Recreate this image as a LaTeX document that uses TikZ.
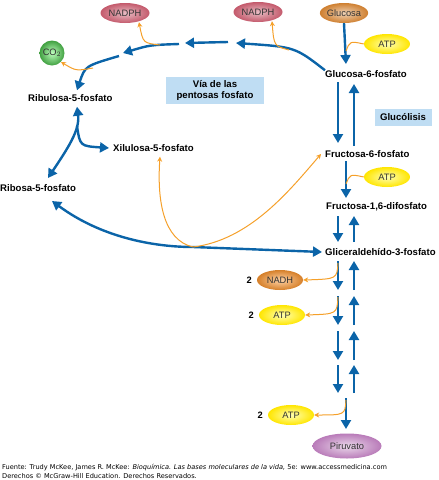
\documentclass[tikz,border=0pt]{standalone}
\usepackage{fontspec}
\setmainfont{Liberation Sans}
\newfontfamily\footfont{DejaVu Sans}
\usetikzlibrary{shapes.geometric, positioning, arrows.meta}
\definecolor{pathblue}{HTML}{0B64A8}
\definecolor{sideorange}{HTML}{F5A02A}
\definecolor{boxblue}{HTML}{BFDDF3}
\definecolor{rose}{HTML}{C45A6C}
\definecolor{lilac}{HTML}{B97BB9}
\tikzset{
  flow/.style={-{Triangle[length=9pt,width=10pt]}, line width=2.4pt, draw=pathblue},
  flowboth/.style={{Triangle[length=9pt,width=10pt]}-{Triangle[length=9pt,width=10pt]}, line width=2.4pt, draw=pathblue},
  feed/.style={line width=1pt, draw=sideorange},
  feedout/.style={feed, -{Stealth[length=5pt,width=5pt]}},
  metab/.style={font=\fontsize{9.6}{11}\selectfont\bfseries, inner sep=0pt, anchor=west},
  cofactor/.style={ellipse, minimum width=46pt, minimum height=20pt, inner sep=0pt, font=\fontsize{9.3}{11}\selectfont, text=black!80, shading=radial},
  atp/.style={cofactor, inner color=yellow!30, outer color=yellow!80!orange},
  nadph/.style={cofactor, minimum width=49pt, inner color=rose!40!white, outer color=rose},
  count/.style={font=\fontsize{9.3}{11}\selectfont\bfseries},
  titlebox/.style={fill=boxblue, font=\fontsize{9.6}{11}\selectfont\bfseries, align=center, inner sep=2pt}
}

\begin{document}
\begin{tikzpicture}[x=1pt, y=-1pt]
\useasboundingbox (0,0) rectangle (439,480);
% columns of the glycolysis arrows
\coordinate (dn) at (338,0);
\coordinate (up) at (354,0);
\coordinate (mid) at (346,0);

\node[cofactor, inner color=orange!25!brown!35!white, outer color=brown!75!orange] (glucosa) at (344,13) {Glucosa};
\node[nadph] (nadphA) at (258,12) {NADPH};
\node[nadph] (nadphB) at (125,13) {NADPH};
\node[cofactor, circle, minimum width=25pt, inner color=green!25!white, outer color=green!50!black!75!white] (co2) at (52,53) {CO$_2$};
\node[atp] (atpA) at (387,44) {ATP};
\node[atp] (atpB) at (387,177) {ATP};

\node[metab] (g6p) at (325,74) {Glucosa-6-fosfato};
\node[metab] (f6p) at (325,154) {Fructosa-6-fosfato};
\node[metab] (f16) at (326,207) {Fructosa-1,6-difosfato};
\node[metab] (g3p) at (325,252) {Gliceraldehído-3-fosfato};
\node[metab] (ribulosa) at (28,98) {Ribulosa-5-fosfato};
\node[metab] (xilulosa) at (113,148) {Xilulosa-5-fosfato};
\node[metab] (ribosa) at (0,188) {Ribosa-5-fosfato};

\node[titlebox, minimum width=98pt, minimum height=27pt] (via) at (215,90) {Vía de las\\pentosas fosfato};
\node[titlebox, minimum width=57pt, minimum height=17pt] (glucolisis) at (403,117) {Glucólisis};

\node[cofactor, inner color=orange!35!white, outer color=brown!65!orange] (nadh) at (280,280) {NADH};
\node[count, left=1.5pt of nadh] (nadhN) {2};
\node[atp] (atpC) at (282,315) {ATP};
\node[count, left=1.5pt of atpC] (atpCN) {2};
\node[atp] (atpD) at (291,415) {ATP};
\node[count, left=1.5pt of atpD] (atpDN) {2};
\node[cofactor, minimum width=69pt, minimum height=25pt, inner color=lilac!30!white, outer color=lilac] (piruvato) at (347,446) {Piruvato};

% glucolisis
\draw[flow] (glucosa.south) -- (mid |- 0,64);
\draw[feed] (atpA.west) .. controls (350,41) .. (mid |- 0,51);
\draw[flow] (dn |- 0,82) -- (dn |- 0,143);
\draw[flow] (up |- 0,146) -- (up |- 0,84);
\draw[flow] (mid |- 0,161) -- (mid |- 0,198);
\draw[feed] (atpB.west) .. controls (350,174) .. (mid |- 0,184);
\draw[flow] (dn |- 0,216) -- (dn |- 0,242);
\draw[flow] (up |- 0,242) -- (up |- 0,216);
\foreach \a/\b in {261/290, 296/325, 331/360, 365/393} {
  \draw[flow] (dn |- 0,\a) -- (dn |- 0,\b);
  \draw[flow] (up |- 0,\b) -- (up |- 0,\a);
}
\draw[flow] (mid |- 0,398) -- (mid |- 0,429);
\draw[feedout] (dn |- 0,263) .. controls (337,279) .. (nadh.east);
\draw[feedout] (dn |- 0,297) .. controls (337,314) .. (atpC.east);
\draw[feedout] (mid |- 0,400) .. controls (345,415) .. (atpD.east);

% pentosas fosfato
\coordinate (nadphJoinA) at (289,50);
\coordinate (nadphJoinB) at (160,45);
\coordinate (co2Join) at (93,68);
\coordinate (fork) at (77,126);
\coordinate (split) at (193,247);
\draw[flow] (g6p.north west) .. controls (295,47) .. (236,43);
\draw[feedout] (nadphJoinA) .. controls (274,46) .. ([shift={(14,-1)}]nadphA.south);
\draw[flow] (228,42) -- (185,43);
\draw[flow] (179,44) .. controls (150,45) .. (123,53);
\draw[feedout] (nadphJoinB) .. controls (143,43) .. ([shift={(14,-1)}]nadphB.south);
\draw[flow] (119,56) .. controls (85,66) .. ([shift={(0,-4)}]ribulosa.north -| fork);
\draw[feedout] (co2Join) .. controls (76,71) .. (co2.south east);
\draw[flowboth] (48,178) .. controls (68,148) and (80,130) .. ([shift={(0,5)}]ribulosa.south -| fork);
\draw[flow] (fork) .. controls (80,146) .. ([xshift=-4pt]xilulosa.west);
\draw[flowboth] (52,201) .. controls (105,240) and (160,247) .. (split) -- ([xshift=-3pt]g3p.west);
\draw[feedout] (split) .. controls (163,240) and (157,200) .. ([shift={(47,5)}]xilulosa.south west);
\draw[feedout] (split) .. controls (250,240) and (290,190) .. ([xshift=-4pt]f6p.west);

\node[font=\footfont\fontsize{6.6}{8.8}\selectfont, align=left, anchor=north west, inner sep=0pt] (fuente) at (2,464)
  {Fuente: Trudy McKee, James R. McKee: \textit{Bioquímica. Las bases moleculares de la vida,} 5e: www.accessmedicina.com\\
   Derechos © McGraw-Hill Education. Derechos Reservados.};
\end{tikzpicture}
\end{document}
